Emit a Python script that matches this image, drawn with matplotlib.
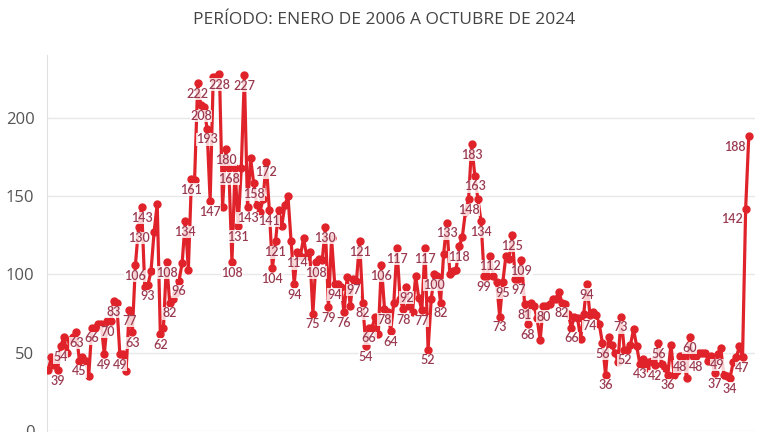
import matplotlib.pyplot as plt

# Serie mensual, enero 2006 a octubre 2024 (226 meses)
valores = [
    39, 47, 42, 39, 54, 60, 50, 58, 60, 63, 45, 47,
    45, 35, 66, 66, 68, 68, 49, 70, 70, 83, 82, 49,
    49, 38, 77, 63, 106, 130, 143, 92, 93, 102, 127, 145,
    62, 66, 108, 82, 84, 88, 96, 107, 134, 103, 161, 160,
    222, 208, 207, 193, 147, 226, 226, 228, 143, 180, 168, 108,
    168, 131, 168, 227, 143, 174, 158, 144, 140, 148, 172, 141,
    104, 121, 141, 131, 144, 150, 121, 94, 114, 112, 123, 112,
    114, 75, 108, 110, 109, 130, 79, 123, 94, 94, 92, 76,
    98, 80, 97, 96, 121, 82, 54, 66, 66, 73, 62, 106,
    78, 76, 64, 82, 117, 84, 78, 92, 80, 76, 99, 85,
    77, 117, 52, 84, 100, 99, 82, 113, 133, 100, 102, 103,
    118, 124, 140, 148, 183, 163, 148, 134, 99, 99, 112, 99,
    95, 73, 95, 112, 110, 125, 97, 97, 109, 81, 68, 82,
    80, 72, 58, 80, 80, 81, 84, 84, 89, 82, 81, 75,
    66, 73, 72, 59, 75, 94, 74, 76, 74, 68, 56, 36,
    60, 55, 50, 44, 73, 52, 52, 55, 65, 54, 43, 46,
    40, 44, 45, 42, 56, 43, 40, 36, 55, 36, 38, 48,
    48, 34, 60, 48, 48, 50, 50, 50, 45, 48, 37, 49,
    53, 36, 35, 34, 44, 47, 54, 47, 142, 188,
]

# meses que llevan etiqueta con su valor
etiquetados = [
    3, 4, 9, 10, 14, 19, 18, 21, 23, 26, 27, 28, 29, 30, 32, 36, 38, 39,
    42, 44, 46, 48, 49, 51, 52, 55, 57, 58, 59, 61, 63, 64, 66, 70, 71, 72,
    73, 79, 80, 85, 86, 89, 90, 92, 95, 98, 100, 101, 102, 103, 107, 108,
    110, 112, 114, 115, 120, 121, 122, 124, 126, 128, 132, 135, 136, 137,
    139, 140, 142, 145, 146, 149, 151, 152, 153, 154, 159, 165, 168, 173,
    174, 178, 179, 184, 185, 190, 195, 196, 199, 203, 206, 208, 214, 215,
    219, 223, 224, 225,
]

titulo = "PERÍODO: ENERO DE 2006 A OCTUBRE DE 2024"

rojo = "#e0232a"
color_etiqueta = "#9a3a50"

fig = plt.figure(figsize=(7.68, 4.32), dpi=100)
ax = fig.add_axes([47 / 768, 1 / 432, (755 - 47) / 768, (431 - 55) / 432])

meses = list(range(len(valores)))
ax.plot(meses, valores, color=rojo, linewidth=2.3, marker="o", markersize=5,
        zorder=3)

caja = dict(facecolor="white", edgecolor="none", alpha=0.8, pad=0.2)
for i in etiquetados:
    if i >= len(valores) - 2:
        ax.annotate(str(valores[i]), (i, valores[i]), xytext=(-2, -3),
                    textcoords="offset points", ha="right", va="top",
                    fontsize=9, color=color_etiqueta, family="Lato",
                    fontweight="semibold", zorder=4, bbox=caja)
    else:
        ax.annotate(str(valores[i]), (i, valores[i]), xytext=(0, -3.5),
                    textcoords="offset points", ha="center", va="top",
                    fontsize=9, color=color_etiqueta, family="Lato",
                    fontweight="semibold", zorder=4, bbox=caja)

ax.set_xlim(-0.4, 227)
ax.set_ylim(0, 240)
ax.set_yticks([0, 50, 100, 150, 200])
ax.set_xticks([])
ax.grid(axis="y", color="#e8e8e8", linewidth=1)
ax.set_axisbelow(True)
for s in ["top", "right", "bottom"]:
    ax.spines[s].set_visible(False)
ax.spines["left"].set_color("#e0e0e0")
ax.tick_params(axis="y", length=0, pad=9, labelsize=12, labelcolor="#555555")
for t in ax.get_yticklabels():
    t.set_family("Open Sans")

fig.text(0.5, 1 - 20 / 432, titulo, ha="center", va="center", fontsize=12.5,
         color="#444444", family="Open Sans")

fig.savefig("out.png", dpi=100)
